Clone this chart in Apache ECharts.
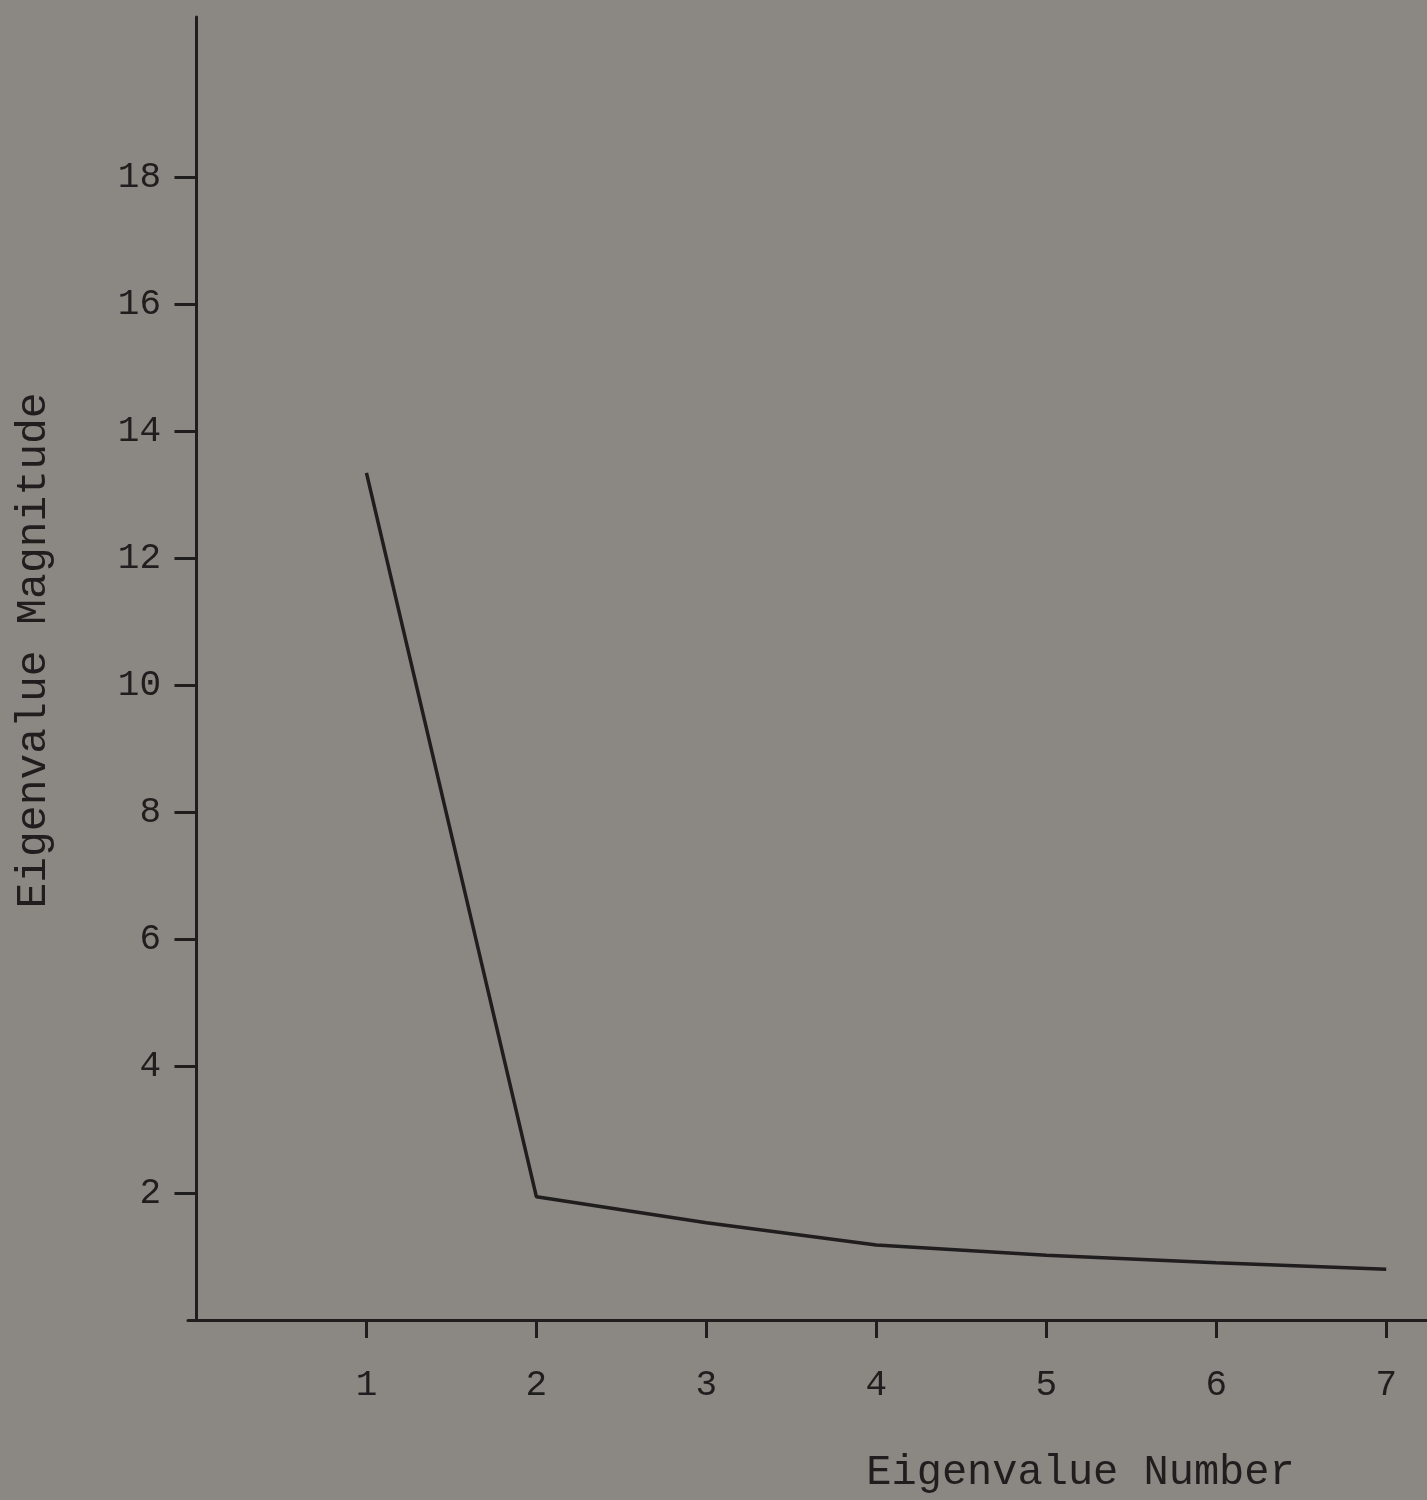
<!DOCTYPE html>
<html>
<head>
<meta charset="utf-8">
<script src="https://cdn.jsdelivr.net/npm/echarts@6/dist/echarts.min.js"></script>
<style>
html,body{margin:0;padding:0;background:#8b8782;}
#chart{width:1427px;height:1500px;}
</style>
</head>
<body>
<div id="chart"></div>
<script>
var eigenNumbers = [1, 2, 3, 4, 5, 6, 7];
var eigenValues = [13.34, 1.94, 1.53, 1.18, 1.02, 0.90, 0.80];
var xTickValues = [1, 2, 3, 4, 5, 6, 7];
var yTickValues = [2, 4, 6, 8, 10, 12, 14, 16, 18];

var ink = '#1f1d1d';
var font = '"Liberation Mono", "DejaVu Sans Mono", monospace';
var chart = echarts.init(document.getElementById('chart'));
chart.setOption({
  backgroundColor: '#8b8782',
  animation: false,
  grid: {left: 188, right: 0, top: 17, bottom: 180, containLabel: false, outerBoundsMode: 'none'},
  xAxis: {
    type: 'value', min: -0.05, max: 7.24, interval: 1,
    name: 'Eigenvalue Number', nameLocation: 'middle', nameGap: 132,
    nameTextStyle: {color: ink, fontFamily: font, fontSize: 42, padding: [0, 0, 0, 546]},
    axisLine: {onZero: false, lineStyle: {color: ink, width: 3}},
    axisTick: {show: true, length: 18, lineStyle: {color: ink, width: 3}, customValues: xTickValues},
    axisLabel: {color: ink, fontFamily: font, fontSize: 36, margin: 47, customValues: xTickValues},
    splitLine: {show: false}
  },
  yAxis: {
    type: 'value', min: 0, max: 20.52, interval: 2,
    name: 'Eigenvalue Magnitude', nameLocation: 'middle', nameGap: 133,
    nameTextStyle: {color: ink, fontFamily: font, fontSize: 43, padding: [0, 0, 0, 36]},
    axisLine: {onZero: true, lineStyle: {color: ink, width: 3}},
    axisTick: {show: true, length: 22, lineStyle: {color: ink, width: 3}, customValues: yTickValues},
    axisLabel: {color: ink, fontFamily: font, fontSize: 36, margin: 27, customValues: yTickValues},
    splitLine: {show: false}
  },
  series: [{
    type: 'line',
    data: eigenNumbers.map(function (n, i) { return [n, eigenValues[i]]; }),
    showSymbol: false,
    lineStyle: {color: ink, width: 3.5}
  }]
});
</script>
</body>
</html>
